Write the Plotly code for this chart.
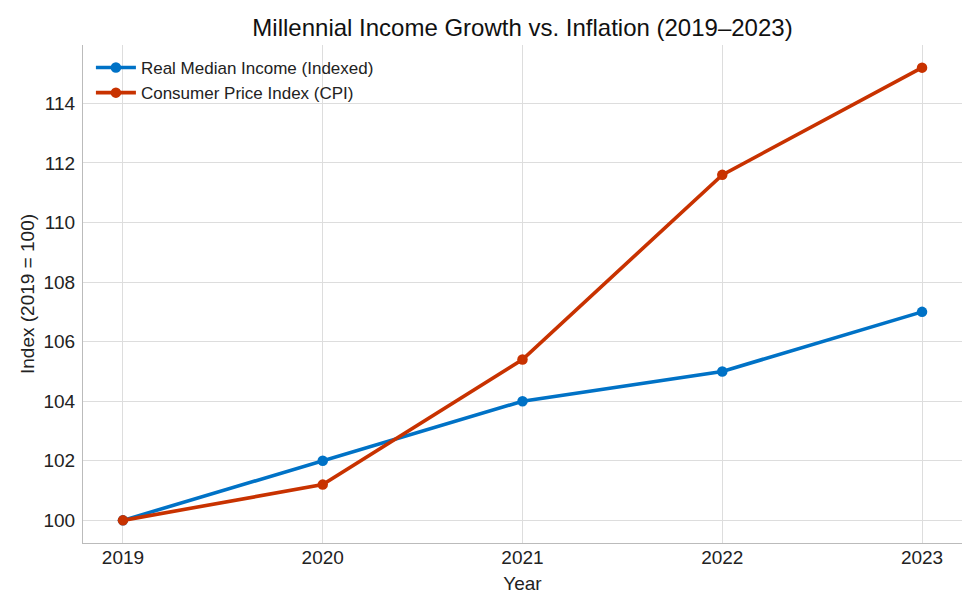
import plotly.graph_objects as go

# Data
years = [2019, 2020, 2021, 2022, 2023]
income_index = [100, 102, 104, 105, 107]
cpi_index = [100, 101.2, 105.4, 111.6, 115.2]
y_ticks = [100, 102, 104, 106, 108, 110, 112, 114]

blue = 'rgb(0,114,198)'
red = 'rgb(200,50,0)'

fig = go.Figure()

fig.add_trace(go.Scatter(x=years, y=income_index, mode='lines+markers',
                         name='Real Median Income (Indexed)',
                         line=dict(color=blue, width=3.6),
                         marker=dict(color=blue, size=10.5)))

fig.add_trace(go.Scatter(x=years, y=cpi_index, mode='lines+markers',
                         name='Consumer Price Index (CPI)',
                         line=dict(color=red, width=3.6),
                         marker=dict(color=red, size=10.5)))

# the page body has an 8px margin, so the figure is a bit smaller than the window
fig.update_layout(
    width=972, height=604,
    margin=dict(l=75, r=18, t=37, b=69),
    paper_bgcolor='white', plot_bgcolor='white',
    font=dict(family='Liberation Sans, Arial, sans-serif', size=19, color='#222'),
    title=dict(text='Millennial Income Growth vs. Inflation (2019–2023)',
               x=0.5, xref='paper', xanchor='center', y=0.967, yanchor='middle',
               font=dict(size=24, color='#111')),
    legend=dict(x=0.009, y=0.99, xanchor='left', yanchor='top',
                bgcolor='rgba(0,0,0,0)', font=dict(size=17, color='#222'),
                itemwidth=40, tracegroupgap=0),
    showlegend=True,
)

fig.update_xaxes(
    range=[2018.8, 2023.2], tickvals=years, ticktext=[str(y) for y in years],
    showgrid=True, gridcolor='#dddddd', gridwidth=1,
    showline=True, linecolor='#bbbbbb', linewidth=1.2, mirror=False,
    ticks='', ticklabelstandoff=-3,
    zeroline=False,
    title=dict(text='Year', font=dict(size=19), standoff=9),
)

fig.update_yaxes(
    range=[99.24, 115.96], tickvals=y_ticks,
    showgrid=True, gridcolor='#dddddd', gridwidth=1,
    showline=True, linecolor='#bbbbbb', linewidth=1.2, mirror=False,
    ticks='outside', ticklen=3, tickcolor='rgba(0,0,0,0)',
    zeroline=False,
    title=dict(text='Index (2019 = 100)', font=dict(size=19), standoff=3),
)

fig.write_html('out.html')
